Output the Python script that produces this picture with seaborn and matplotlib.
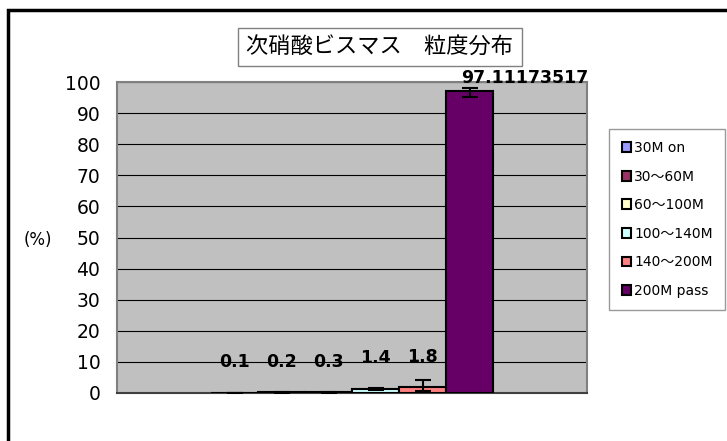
import matplotlib
matplotlib.use("Agg")
import matplotlib.pyplot as plt
import matplotlib.patches as mpatches
import seaborn as sns
import pandas as pd

# ---- data ----
category = ["次硝酸ビスマス"]
series = ["30M on", "30～60M", "60～100M", "100～140M", "140～200M", "200M pass"]
values = [0.1, 0.2, 0.3, 1.4, 1.8, 97.11173517]
err_low = [0.05, 0.1, 0.15, 0.3, 1.1, 2.0]
err_high = [0.05, 0.1, 0.15, 0.3, 2.4, 1.0]
value_labels = ["0.1", "0.2", "0.3", "1.4", "1.8", "97.11173517"]
colors = ["#9999FF", "#993366", "#FFFFCC", "#CCFFFF", "#FF8080", "#660066"]
yticks = [0, 10, 20, 30, 40, 50, 60, 70, 80, 90, 100]
title = "次硝酸ビスマス　粒度分布"
ylabel = "(%)"

sns.set_theme(style="white")
plt.rcParams["font.family"] = ["DejaVu Sans", "Noto Sans CJK JP"]
plt.rcParams["text.color"] = "black"
plt.rcParams["ytick.color"] = "black"

df = pd.DataFrame({"cat": category * len(series), "series": series, "value": values})

fig = plt.figure(figsize=(7.27, 4.41), dpi=100)
ax = fig.add_axes([117 / 727, 1 - 393 / 441, 470 / 727, 311 / 441])
ax.set_facecolor("#C0C0C0")

sns.barplot(data=df, x="cat", y="value", hue="series", hue_order=series,
            palette=colors, saturation=1, width=0.6, edgecolor="black", linewidth=1.5,
            errorbar=None, ax=ax, legend=True, zorder=3)

bars = [p for p in ax.patches if isinstance(p, mpatches.Rectangle) and p.get_width() > 0][:len(series)]
bars = sorted(bars, key=lambda p: p.get_x())
for i, b in enumerate(bars):
    cx = b.get_x() + b.get_width() / 2
    ax.errorbar(cx, values[i], yerr=[[err_low[i]], [err_high[i]]], fmt="none", ecolor="black",
                elinewidth=1.5, capsize=6, capthick=1.5, zorder=4)
    if i < len(series) - 1:
        ax.annotate(value_labels[i], (cx, values[i]), xytext=(0, 22),
                    textcoords="offset points", ha="center", va="center",
                    fontsize=12.5, fontweight="bold", zorder=5)
    else:
        ax.annotate(value_labels[i], (cx, values[i]), xytext=(40, 9),
                    textcoords="offset points", ha="center", va="center",
                    fontsize=12.5, fontweight="bold", zorder=5, annotation_clip=False)

ax.set_xlim(-0.5, 0.5)
ax.set_ylim(0, 100)
ax.set_yticks(yticks)
ax.set_yticklabels([str(t) for t in yticks], fontsize=13.5)
ax.set_xticks([])
ax.set_xlabel("")
ax.set_ylabel("")
ax.tick_params(axis="y", length=0, pad=12, colors="black")
ax.yaxis.grid(True, color="black", linewidth=0.8)
ax.set_axisbelow(True)
for s in ax.spines.values():
    s.set_color("#808080")
    s.set_linewidth(1.5)
ax.spines["bottom"].set_color("#404040")

leg = ax.legend(loc="center left", bbox_to_anchor=(609 / 727, 1 - 219.5 / 441),
                bbox_transform=fig.transFigure, fontsize=10, frameon=True,
                fancybox=False, edgecolor="#808080", handlelength=0.7,
                handleheight=0.7, handletextpad=0.2, labelspacing=1.05,
                borderpad=0.9, borderaxespad=0)
leg.get_frame().set_linewidth(1.0)
for t in leg.get_texts():
    t.set_color("black")
for h in leg.legend_handles:
    h.set_edgecolor("black")
    h.set_linewidth(1.5)

fig.text(380 / 727, 1 - 47 / 441, title, ha="center", va="center", fontsize=16,
         bbox=dict(boxstyle="square,pad=0.4", facecolor="white", edgecolor="#808080", linewidth=1.0))
fig.text(38 / 727, 1 - 240 / 441, ylabel, ha="center", va="center", fontsize=12)

border = mpatches.Rectangle((8 / 727, -0.05), 1.0, 1 - 10 / 441 + 0.05,
                            transform=fig.transFigure, fill=False,
                            edgecolor="black", linewidth=2.5, clip_on=False)
fig.add_artist(border)

fig.savefig("out.png", dpi=100)
